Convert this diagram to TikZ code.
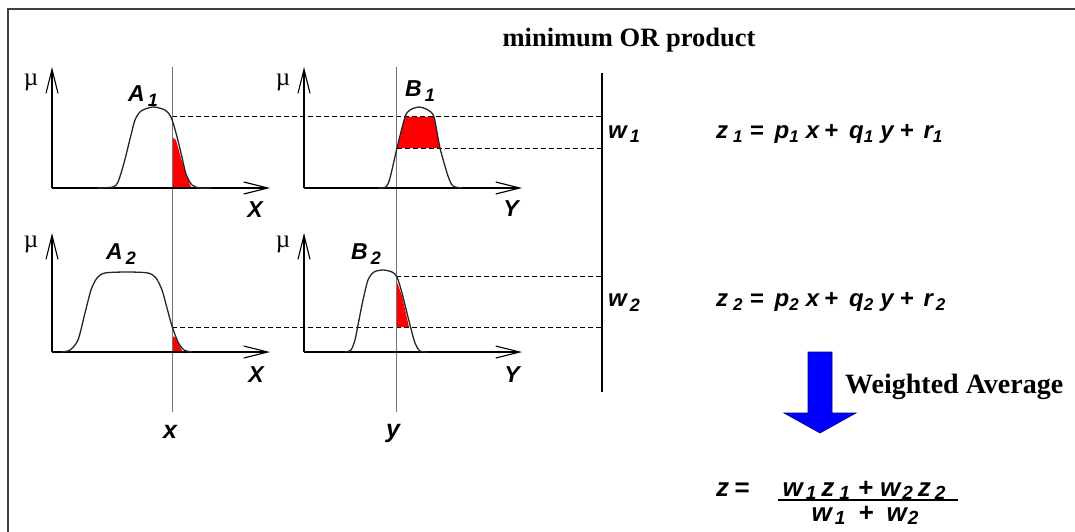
\documentclass[tikz,border=0pt]{standalone}
\usepackage{fontspec}
\setmainfont{Liberation Serif}
\newfontfamily\arialf{Liberation Sans}
\usetikzlibrary{arrows.meta}
\newcommand\sbs[1]{\raisebox{-5pt}{\fontsize{18}{18}\selectfont #1}}
\newcommand\sbt[1]{\raisebox{-4pt}{\fontsize{17}{17}\selectfont #1}}
\newcommand\sbf[1]{\raisebox{-3pt}{\fontsize{19}{19}\selectfont #1}}
\begin{document}
\begin{tikzpicture}[x=1pt,y=-1pt,
  axis/.style={line width=2.6pt,-{Straight Barb[length=24pt,width=12pt,line width=1.1pt]}},
  curve/.style={line width=1.3pt,black!85,smooth,tension=0.45},
  redfill/.style={fill=red,draw=none},
  dline/.style={dashed,dash pattern=on 5pt off 3pt,line width=1pt},
  vthin/.style={line width=0.8pt,black!55},
  lab/.style={font=\arialf\bfseries\itshape\fontsize{23}{23}\selectfont,inner sep=0pt},
  axl/.style={font=\arialf\bfseries\itshape\fontsize{23}{23}\selectfont,inner sep=0pt},
  inl/.style={font=\arialf\bfseries\itshape\fontsize{25}{25}\selectfont,inner sep=0pt},
  mu/.style={font=\fontsize{25}{25}\selectfont,inner sep=0pt},
  eq/.style={font=\arialf\bfseries\itshape\fontsize{24}{24}\selectfont,inner sep=0pt},
  feq/.style={font=\arialf\bfseries\itshape\fontsize{26}{26}\selectfont,inner sep=0pt},
  ttl/.style={font=\bfseries\fontsize{26.5}{26.5}\selectfont,inner sep=0pt},
  wav/.style={font=\bfseries\fontsize{28}{28}\selectfont,inner sep=0pt}]
\useasboundingbox (0,0) rectangle (1075,532);
\fill[white] (0,0) rectangle (1075,532);
% frame
\draw[line width=2pt,black!75] (1075,9) -- (8,9) -- (8,532);

% red areas
\fill[redfill] (172,137) -- (176,140) -- (181,158) -- (186,175) -- (191,187) -- (172,188) -- cycle;
\fill[redfill] (397,148) -- (405,117) -- (434,117) -- (440,148) -- cycle;
\fill[redfill] (172,336) -- (175,337) -- (179,345) -- (183,352) -- (172,352) -- cycle;
\fill[redfill] (397,282) -- (402,296) -- (409,327) -- (397,327) -- cycle;

% coordinates
\coordinate (a1c) at (172,117);
\coordinate (r1) at (602,117);
\coordinate (b1c) at (397,148);
\coordinate (r2) at (602,148);
\coordinate (b2c) at (396,276);
\coordinate (r3) at (602,276);
\coordinate (a2c) at (172,327);
\coordinate (r4) at (602,327);
\coordinate (xt) at (172,67);
\coordinate (xb) at (172,412);
\coordinate (yt) at (396,67);
\coordinate (yb) at (396,412);
\coordinate (wt) at (602,73);
\coordinate (wb) at (602,392);

% dashed levels
\draw[dline] (a1c) -- (r1);
\draw[dline] (b1c) -- (r2);
\draw[dline] (b2c) -- (r3);
\draw[dline] (a2c) -- (r4);

% input lines
\draw[vthin] (xt) -- (xb);
\draw[vthin] (yt) -- (yb);
\draw[line width=1.5pt] (wt) -- (wb);

% axes
\coordinate (o1) at (52,188); \coordinate (o2) at (304,188);
\coordinate (o3) at (52,352); \coordinate (o4) at (304,352);
\draw[axis] (o1) -- (52,67);  \draw[axis] (o1) -- (270,188);
\draw[axis] (o2) -- (304,67); \draw[axis] (o2) -- (522,188);
\draw[axis] (o3) -- (52,233); \draw[axis] (o3) -- (270,352);
\draw[axis] (o4) -- (304,233); \draw[axis] (o4) -- (522,352);

% membership curves
\draw[curve] plot coordinates {(97,188) (113,187) (118,182) (124,163) (131,135) (135,120) (141,111) (153,107) (165,110) (171,117) (176,133) (181,153) (186,174) (192,185) (200,188) (212,188)};
\draw[curve] plot coordinates {(378,188) (386,187) (390,178) (397,148) (405,117) (410,110) (419,107) (428,110) (434,117) (440,148) (448,176) (453,186) (462,188)};
\draw[curve] plot coordinates {(62,352) (70,350) (78,340) (85,313) (91,290) (97,278) (105,273) (127,272) (148,273) (156,278) (162,290) (167,308) (172,326) (178,342) (184,350) (192,352)};
\draw[curve] plot coordinates {(345,352) (351,350) (355,340) (358,325) (363,300) (368,280) (374,272) (383,270) (392,272) (397,277) (402,293) (410,325) (415,343) (420,351) (428,352)};

% labels
\node[ttl,anchor=base] (title) at (629,47) {minimum OR product};
\node[mu] (mu1) at (31,82) {µ};
\node[mu] (mu2) at (283,82) {µ};
\node[mu] (mu3) at (31,244) {µ};
\node[mu] (mu4) at (283,244) {µ};
\node[lab,anchor=base west] (A1) at (128,102) {A\hspace{3pt}\sbs{1}};
\node[lab,anchor=base west] (B1) at (405,97) {B\hspace{3pt}\sbs{1}};
\node[lab,anchor=base west] (A2) at (106,259) {A\hspace{3pt}\sbs{2}};
\node[lab,anchor=base west] (B2) at (351,259) {B\hspace{3pt}\sbs{2}};
\node[axl] (X1) at (255,210) {X};
\node[axl] (Y1) at (511,209) {Y};
\node[axl] (X2) at (256,375) {X};
\node[axl] (Y2) at (512,375) {Y};
\node[inl,anchor=base] (xl) at (170,438) {x};
\node[inl,anchor=base] (yl) at (393,437) {y};
\node[eq,anchor=base west] (w1) at (608,138) {w\hspace{3pt}\sbs{1}};
\node[eq,anchor=base west] (w2) at (608,306) {w\hspace{3pt}\sbs{2}};
\node[eq,anchor=base west] (z1) at (716,138) {z\hspace{5pt}\sbt{1}\hspace{7pt}=\hspace{11pt}p\sbt{1}\hspace{7pt}x\hspace{5pt}+\hspace{11pt}q\sbt{1}\hspace{7pt}y\hspace{6pt}+\hspace{10pt}r\sbt{1}};
\node[eq,anchor=base west] (z2) at (716,306) {z\hspace{5pt}\sbt{2}\hspace{7pt}=\hspace{11pt}p\sbt{2}\hspace{7pt}x\hspace{5pt}+\hspace{11pt}q\sbt{2}\hspace{7pt}y\hspace{6pt}+\hspace{10pt}r\hspace{3pt}\sbt{2}};

% weighted average arrow
\draw[fill=blue,draw=blue!40!black,line width=0.6pt] (808,352) -- (832,352) -- (832,413) -- (856,413) -- (820,433) -- (784,413) -- (808,413) -- cycle;
\node[wav,anchor=base west] (wa) at (845,393) {Weighted Average};

% final formula
\node[feq,anchor=base west] (zl) at (716,496) {z\hspace{5pt}=};
\node[feq,anchor=base] (num) at (864,496) {w\hspace{3pt}\sbf{1}\hspace{5pt}z\hspace{5pt}\sbf{1}\hspace{8pt}+\hspace{7pt}w\hspace{2pt}\sbf{2}\hspace{5pt}z\hspace{4pt}\sbf{2}};
\node[feq,anchor=base] (den) at (865,521) {w\hspace{3pt}\sbf{1}\hspace{13pt}+\hspace{13pt}w\hspace{1pt}\sbf{2}};
\coordinate (fl) at (778,500);
\coordinate (fr) at (958,500);
\draw[line width=1.6pt] (fl) -- (fr);
\end{tikzpicture}
\end{document}
